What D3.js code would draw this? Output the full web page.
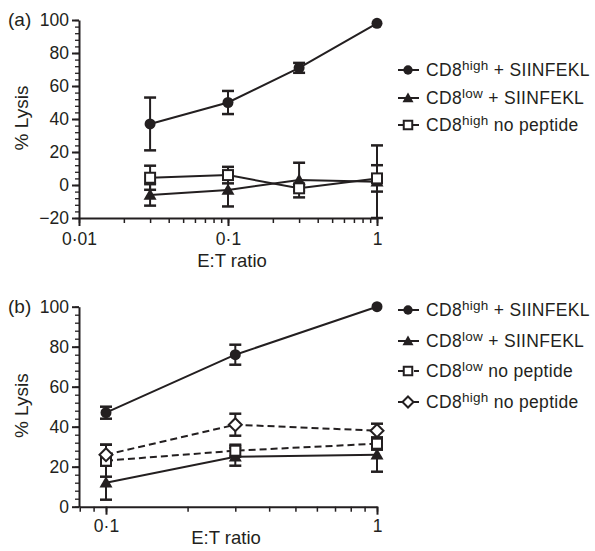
<!DOCTYPE html>
<html>
<head>
<meta charset="utf-8">
<script src="https://cdn.jsdelivr.net/npm/d3@7"></script>
<style>
  body { margin: 0; background: #fff; }
  text { font-family: "Liberation Sans", Arial, sans-serif; fill: #231f20; }
</style>
</head>
<body>
<div id="chart"></div>
<script>
// panel (a)
var ratioA = [0.03, 0.1, 0.3, 1];
var aHighPep = [37, 50, 71, 98],  aHighPepErr = [16, 7, 3, 0];
var aLowPep  = [-6, -3, 3, 2],    aLowPepErr  = [6.5, 10, 10.5, 22];
var aHighNo  = [4.4, 6, -2, 4],   aHighNoErr  = [7.3, 5, 1.5, 8];
var xTicksA = [0.01, 0.1, 1];
var yTicksA = [-20, 0, 20, 40, 60, 80, 100];

// panel (b)
var ratioB = [0.1, 0.3, 1];
var bHighPep = [47, 76, 100], bHighPepErr = [3, 5, 0];
var bLowPep  = [12, 25, 26],  bLowPepErr  = [8.5, 4.5, 8.5];
var bLowNo   = [23, 28, 31.5],  bLowNoErr   = [8, 3, 3];
var bHighNo  = [26, 41, 38],  bHighNoErr  = [5, 5.5, 3.5];
var xTicksB = [0.1, 1];
var yTicksB = [0, 20, 40, 60, 80, 100];

var width = 595, height = 551;
var ink = "#231f20";

var svg = d3.select("#chart").append("svg")
    .attr("width", width)
    .attr("height", height);

var fmt = function(d) { return String(d).replace(".", "\u00b7"); };

function minorLog(domain) {
    var out = [];
    for (var e = -3; e <= 0; e++) {
        for (var m = 1; m < 10; m++) {
            var v = m * Math.pow(10, e);
            if (v >= domain[0] * 0.999 && v <= domain[1] * 1.001) out.push(v);
        }
    }
    return out;
}

function panel(cfg) {
    var x = d3.scaleLog().domain(cfg.xDomain).range([79, 377]);
    var y = d3.scaleLinear().domain(cfg.yDomain).range(cfg.yRange);
    var g = svg.append("g");

    // axes
    var yMinor = d3.range(cfg.yDomain[0], cfg.yDomain[1] + 0.1, 4);
    g.append("g").attr("transform", "translate(79,0)")
        .call(d3.axisLeft(y).tickValues(yMinor).tickSize(4).tickFormat(""))
        .call(function(a) { a.select(".domain").remove(); a.selectAll("line").attr("stroke", ink).attr("stroke-width", 1.3); });
    g.append("g").attr("transform", "translate(79,0)")
        .call(d3.axisLeft(y).tickValues(cfg.yTicks).tickSize(7).tickSizeOuter(0).tickPadding(3))
        .call(function(a) {
            a.select(".domain").attr("stroke", ink).attr("stroke-width", 2);
            a.selectAll("line").attr("stroke", ink).attr("stroke-width", 2);
            a.selectAll("text").attr("font-size", 17.5).attr("fill", ink)
                .text(function(d) { return d < 0 ? "\u2212" + Math.abs(d) : d; });
        });

    var xb = cfg.yRange[0];
    g.append("g").attr("transform", "translate(0," + xb + ")")
        .call(d3.axisBottom(x).tickValues(minorLog(cfg.xDomain)).tickSize(5).tickFormat(""))
        .call(function(a) { a.select(".domain").remove(); a.selectAll("line").attr("stroke", ink).attr("stroke-width", 1.5); });
    g.append("g").attr("transform", "translate(0," + xb + ")")
        .call(d3.axisBottom(x).tickValues(cfg.xTicks).tickSize(8).tickSizeOuter(0).tickFormat(fmt).tickPadding(cfg.xPad))
        .call(function(a) {
            a.select(".domain").attr("stroke", ink).attr("stroke-width", 2);
            a.selectAll("line").attr("stroke", ink).attr("stroke-width", 2);
            a.selectAll("text").attr("font-size", 17.5).attr("fill", ink);
        });

    g.append("text").attr("x", cfg.titleX).attr("y", xb + cfg.titleDy).attr("text-anchor", "middle")
        .attr("font-size", 18.5).text("E:T ratio");
    var ym = (cfg.yRange[0] + cfg.yRange[1]) / 2;
    g.append("text").attr("transform", "translate(28," + (ym - 1) + ") rotate(-90)")
        .attr("text-anchor", "middle").attr("font-size", 19).text("% Lysis");
    g.append("text").attr("x", 8).attr("y", cfg.yRange[1] + 6).attr("font-size", 19).text(cfg.label);

    var line = d3.line().x(function(d) { return x(d[0]); }).y(function(d) { return y(d[1]); });

    cfg.series.forEach(function(s) {
        var pts = cfg.ratio.map(function(r, i) { return [r, s.values[i], s.err[i]]; });
        g.append("path").datum(pts).attr("d", line)
            .attr("fill", "none").attr("stroke", ink).attr("stroke-width", 2)
            .attr("stroke-dasharray", s.dash ? "7,4" : null);
    });
    cfg.series.forEach(function(s) {
        cfg.ratio.forEach(function(r, i) {
            var e = s.err[i];
            if (!e) return;
            var cx = x(r), lo = y(Math.max(s.values[i] - e, cfg.yDomain[0])), hi = y(s.values[i] + e);
            g.append("line").attr("x1", cx).attr("x2", cx).attr("y1", lo).attr("y2", hi)
                .attr("stroke", ink).attr("stroke-width", 2);
            [s.values[i] - e, s.values[i] + e].forEach(function(v) {
                if (v < cfg.yDomain[0]) return;
                g.append("line").attr("x1", cx - 6).attr("x2", cx + 6).attr("y1", y(v)).attr("y2", y(v))
                    .attr("stroke", ink).attr("stroke-width", 2.5);
            });
        });
    });
    cfg.series.forEach(function(s) {
        cfg.ratio.forEach(function(r, i) {
            drawMarker(g, s.shape, x(r), y(s.values[i]));
        });
    });

    // legend
    cfg.series.forEach(function(s, i) {
        var ly = cfg.legendY[i];
        g.append("line").attr("x1", 398).attr("x2", 419).attr("y1", ly).attr("y2", ly)
            .attr("stroke", ink).attr("stroke-width", 2)
            .attr("stroke-dasharray", s.dash ? "5,3" : null);
        drawMarker(g, s.shape, 408, ly, 0.85);
        var t = g.append("text").attr("x", 426).attr("y", ly + 6).attr("font-size", 17.5)
            .attr("letter-spacing", 0.3);
        t.append("tspan").text("CD8");
        t.append("tspan").attr("font-size", 13.5).attr("dy", -6).text(s.sup);
        t.append("tspan").attr("dy", 6).text(s.rest);
    });
}

function drawMarker(g, shape, cx, cy, k) {
    k = k || 1;
    if (shape === "circle") {
        g.append("circle").attr("cx", cx).attr("cy", cy).attr("r", 5.5 * k).attr("fill", ink);
    } else if (shape === "triangle") {
        var s = 6.5 * k;
        g.append("path").attr("d", "M" + cx + "," + (cy - s) + "L" + (cx + s) + "," + (cy + s * 0.75) + "L" + (cx - s) + "," + (cy + s * 0.75) + "Z")
            .attr("fill", ink);
    } else if (shape === "square") {
        var h = 5 * k;
        g.append("rect").attr("x", cx - h).attr("y", cy - h).attr("width", 2 * h).attr("height", 2 * h)
            .attr("fill", "#fff").attr("stroke", ink).attr("stroke-width", 2);
    } else if (shape === "diamond") {
        var d = 6.5 * k;
        g.append("path").attr("d", "M" + cx + "," + (cy - d) + "L" + (cx + d) + "," + cy + "L" + cx + "," + (cy + d) + "L" + (cx - d) + "," + cy + "Z")
            .attr("fill", "#fff").attr("stroke", ink).attr("stroke-width", 2);
    }
}

panel({
    label: "(a)",
    xDomain: [0.01, 1], yDomain: [-20, 100], yRange: [218, 20],
    xTicks: xTicksA, yTicks: yTicksA, ratio: ratioA, xPad: 7,
    titleX: 232, titleDy: 49,
    legendY: [70, 98, 125],
    series: [
        { values: aHighPep, err: aHighPepErr, shape: "circle", sup: "high", rest: " + SIINFEKL" },
        { values: aLowPep, err: aLowPepErr, shape: "triangle", sup: "low", rest: " + SIINFEKL" },
        { values: aHighNo, err: aHighNoErr, shape: "square", sup: "high", rest: " no peptide" }
    ]
});

panel({
    label: "(b)",
    xDomain: [0.0795, 1], yDomain: [0, 100], yRange: [506.7, 306.7],
    xTicks: xTicksB, yTicks: yTicksB, ratio: ratioB, xPad: 5,
    titleX: 226, titleDy: 37,
    legendY: [310, 341, 371, 402],
    series: [
        { values: bHighPep, err: bHighPepErr, shape: "circle", sup: "high", rest: " + SIINFEKL" },
        { values: bLowPep, err: bLowPepErr, shape: "triangle", sup: "low", rest: " + SIINFEKL" },
        { values: bLowNo, err: bLowNoErr, shape: "square", dash: true, sup: "low", rest: " no peptide" },
        { values: bHighNo, err: bHighNoErr, shape: "diamond", dash: true, sup: "high", rest: " no peptide" }
    ]
});
</script>
</body>
</html>
